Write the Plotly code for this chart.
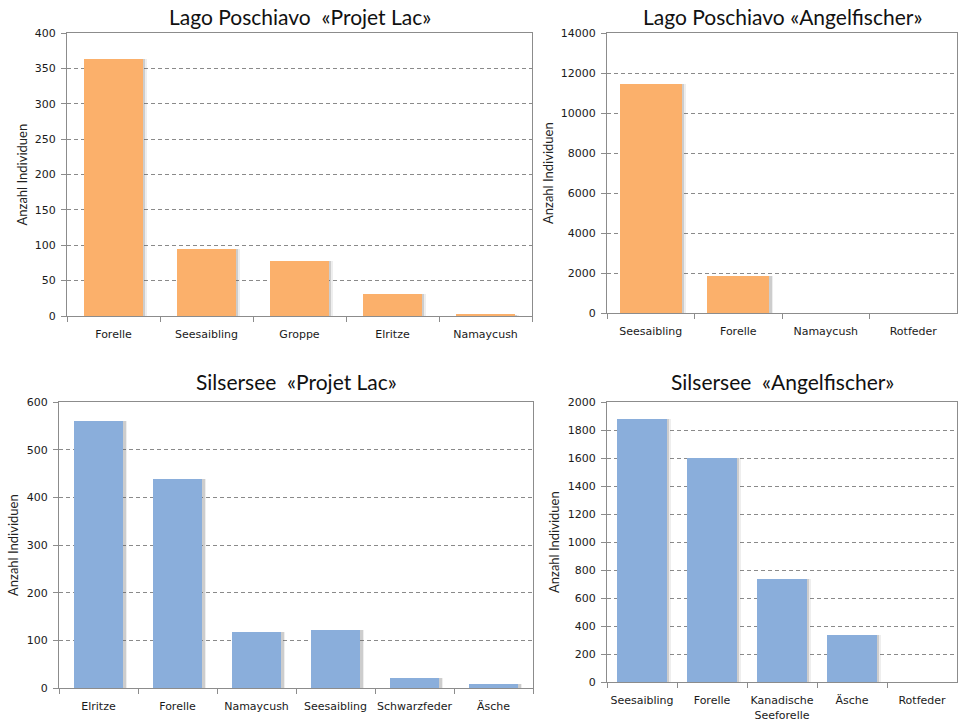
import plotly.graph_objects as go

W, H = 958, 726

# data
poschiavo_lac_species = ["Forelle", "Seesaibling", "Groppe", "Elritze", "Namaycush"]
poschiavo_lac_counts = [363, 95, 78, 31, 2]

poschiavo_angel_species = ["Seesaibling", "Forelle", "Namaycush", "Rotfeder"]
poschiavo_angel_counts = [11430, 1870, 0, 0]

sils_lac_species = ["Elritze", "Forelle", "Namaycush", "Seesaibling", "Schwarzfeder", "Äsche"]
sils_lac_counts = [561, 438, 117, 121, 20, 9]

sils_angel_species = ["Seesaibling", "Forelle", "Kanadische<br>Seeforelle", "Äsche", "Rotfeder"]
sils_angel_counts = [1881, 1600, 733, 336, 0]

ORANGE = "#FBB06B"
BLUE = "#8AAEDB"
GREY = "#8C8C8C"

# panel boxes in pixels: (x0, x1, y_top, y_bottom)
panels = [
    dict(title="Lago Poschiavo  «Projet Lac»", cats=poschiavo_lac_species, vals=poschiavo_lac_counts,
         color=ORANGE, box=(67, 532, 33, 316), rng=400, dtick=50, bw=0.63, title_y=17, ytitle_x=21),
    dict(title="Lago Poschiavo «Angelfischer»", cats=poschiavo_angel_species, vals=poschiavo_angel_counts,
         color=ORANGE, box=(607, 957, 33, 313), rng=14000, dtick=2000, bw=0.71, title_y=17, ytitle_x=548),
    dict(title="Silsersee  «Projet Lac»", cats=sils_lac_species, vals=sils_lac_counts,
         color=BLUE, box=(59, 533, 402, 688), rng=600, dtick=100, bw=0.63, title_y=381, ytitle_x=13),
    dict(title="Silsersee  «Angelfischer»", cats=sils_angel_species, vals=sils_angel_counts,
         color=BLUE, box=(607, 957, 402, 682), rng=2000, dtick=200, bw=0.71, title_y=381, ytitle_x=554),
]

fig = go.Figure()
annotations = []

for i, p in enumerate(panels, start=1):
    x0, x1, yt, yb = p["box"]
    sfx = "" if i == 1 else str(i)
    xa, ya = "x" + sfx, "y" + sfx
    cat_px = (x1 - x0) / len(p["cats"])
    bw = p["bw"]

    # soft drop shadow behind the bars
    for shift, alpha in [(4, 0.10), (2.5, 0.22)]:
        fig.add_trace(go.Bar(
            x=p["cats"], y=p["vals"], width=bw, offset=-bw / 2 + shift / cat_px,
            marker=dict(color=f"rgba(90,90,90,{alpha})", line=dict(width=0)),
            xaxis=xa, yaxis=ya, hoverinfo="skip", showlegend=False))
    fig.add_trace(go.Bar(
        x=p["cats"], y=p["vals"], width=bw, offset=-bw / 2,
        marker=dict(color=p["color"], line=dict(width=0)),
        xaxis=xa, yaxis=ya, showlegend=False))

    fig.layout["xaxis" + sfx] = dict(
        domain=[x0 / W, x1 / W], anchor=ya, type="category", automargin=False,
        showline=True, linecolor=GREY, linewidth=1, mirror=True,
        ticks="outside", tickson="boundaries", ticklen=5, tickcolor=GREY,
        showgrid=False, ticklabelstandoff=8, tickangle=0,
        tickfont=dict(family="DejaVu Sans", size=11, color="#1a1a1a"),
    )
    fig.layout["yaxis" + sfx] = dict(
        domain=[1 - yb / H, 1 - yt / H], anchor=xa, range=[0, p["rng"]], automargin=False,
        dtick=p["dtick"], tick0=0, tickformat="d",
        showline=True, linecolor=GREY, linewidth=1, mirror=True,
        ticks="outside", ticklen=5, tickcolor=GREY, zeroline=False,
        showgrid=True, gridcolor="#8a8a8a", gridwidth=1, griddash="4px,3px",
        ticklabelstandoff=3,
        tickfont=dict(family="DejaVu Sans", size=11, color="#1a1a1a"),
    )

    annotations.append(dict(
        text=p["title"], xref="paper", yref="paper",
        x=(x0 + x1) / 2 / W, y=1 - p["title_y"] / H,
        xanchor="center", yanchor="middle", showarrow=False,
        font=dict(family="Lato", size=21, color="#111111")))
    annotations.append(dict(
        text="Anzahl Individuen", xref="paper", yref="paper",
        x=p["ytitle_x"] / W, y=1 - (yt + yb) / 2 / H, textangle=-90,
        xanchor="center", yanchor="middle", showarrow=False,
        font=dict(family="Lato", size=13, color="#222222")))

fig.update_layout(
    width=W, height=H,
    margin=dict(l=0, r=0, t=0, b=0, autoexpand=False),
    paper_bgcolor="white", plot_bgcolor="white",
    barmode="overlay", bargap=0,
    annotations=annotations,
    showlegend=False,
)

# drop the browser's default body margin so the figure sits at the page corner
fig.write_html("out.html", config={"displayModeBar": False},
               post_script="document.body.style.margin='0';")
